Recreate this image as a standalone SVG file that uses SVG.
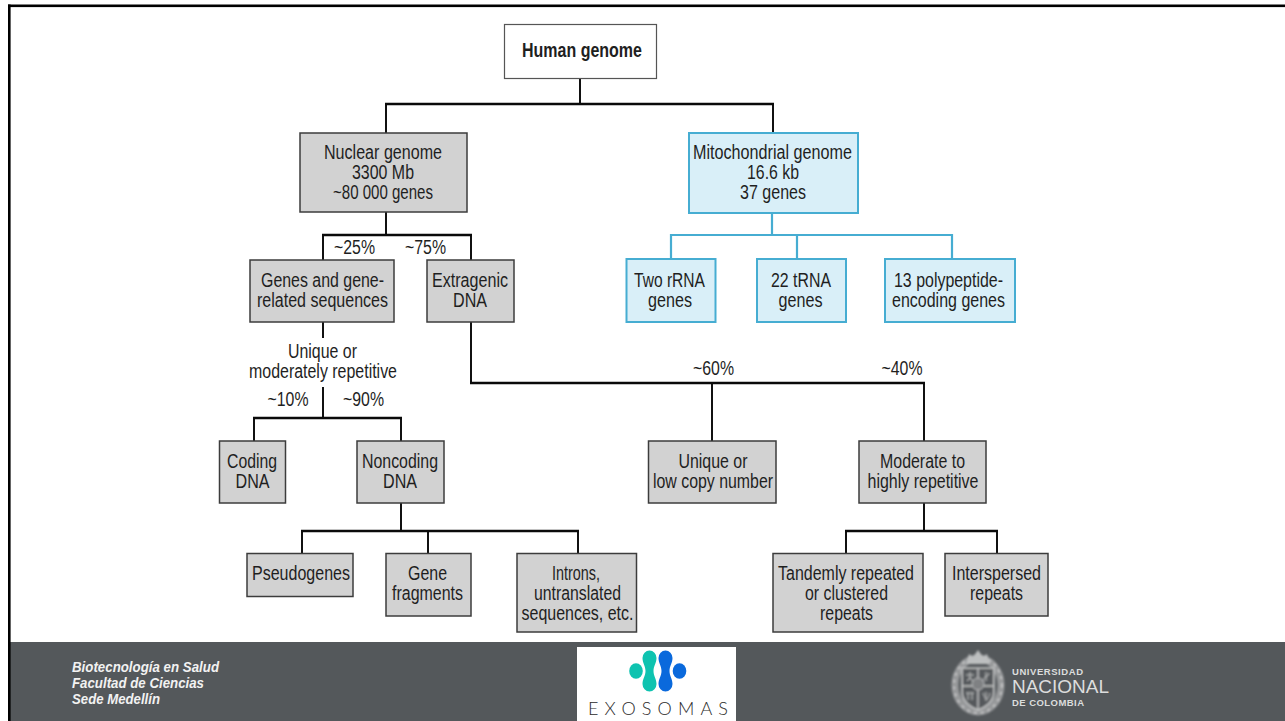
<svg xmlns="http://www.w3.org/2000/svg" width="1285" height="721" viewBox="0 0 1285 721">
<style>
text{font-family:"Liberation Sans",Arial,sans-serif;font-size:19.5px;fill:#1f1f1f;text-anchor:middle}
.b{fill:#d2d2d2;stroke:#3c3c3c;stroke-width:1.5}
.m{fill:#d9eff8;stroke:#46add2;stroke-width:2}
.w{fill:#fff;stroke:#555;stroke-width:1.2}
.c{fill:none;stroke:#111;stroke-width:2}
.h{fill:none;stroke:#0a0a0a;stroke-width:2.600}
.mc{fill:none;stroke:#46add2;stroke-width:2.200}
.f{font-size:14px;font-weight:bold;font-style:italic;fill:#f2f2f2;text-anchor:start}
.u{fill:#dcdddd;text-anchor:start;font-weight:bold}
</style>
<defs><filter id="soft" x="-10%" y="-10%" width="120%" height="120%"><feGaussianBlur stdDeviation="0.8"/></filter></defs>
<rect width="1285" height="721" fill="#fff"/>
<g id="frame">
<rect x="10" y="642" width="1275" height="79" fill="#54585b"/>
<rect x="8" y="4.500" width="1277" height="2.600" fill="#000"/>
<rect x="8" y="4.500" width="2.600" height="716.500" fill="#000"/>
</g>
<g id="connectors">
<path class="c" d="M580 78V104M773 104V133M386 104V133"/><path class="h" d="M385 104H774"/>
<path class="c" d="M386 212V235M323 260V235M471 235V260"/><path class="h" d="M322 235H472"/>
<path class="c" d="M323 322V338M323 387V418M254 441V418M401 418V441"/><path class="h" d="M253 418H402"/>
<path class="c" d="M401 503V531M302 553V531M578 531V553M428 531V553"/><path class="h" d="M301 531H579"/>
<path class="c" d="M471 322V383M924 383V441M712 383V441"/><path class="h" d="M470 383H925"/>
<path class="c" d="M924 503V531M846 553V531M997 531V553"/><path class="h" d="M845 531H998"/>
<path class="mc" d="M772 213V235M671 259V235H952V259M797 235V259"/>
</g>
<g id="human-genome"><rect class="w" x="504.500" y="24.500" width="152" height="54"/><text x="582" y="57" font-weight="bold" textLength="120" lengthAdjust="spacingAndGlyphs">Human genome</text></g>
<g id="nuclear-genome"><rect class="b" x="300" y="133" width="167" height="79"/><text x="383" y="159" textLength="118" lengthAdjust="spacingAndGlyphs">Nuclear genome</text><text x="383" y="179" textLength="62" lengthAdjust="spacingAndGlyphs">3300 Mb</text><text x="383" y="199" textLength="100" lengthAdjust="spacingAndGlyphs">~80 000 genes</text></g>
<g id="mitochondrial-genome"><rect class="m" x="689" y="133" width="169" height="80"/><text x="772.500" y="159" textLength="159" lengthAdjust="spacingAndGlyphs">Mitochondrial genome</text><text x="773" y="179" textLength="52" lengthAdjust="spacingAndGlyphs">16.6 kb</text><text x="773" y="199" textLength="66" lengthAdjust="spacingAndGlyphs">37 genes</text></g>
<g id="rrna"><rect class="m" x="626.500" y="259" width="89" height="63"/><text x="669.500" y="287" textLength="71" lengthAdjust="spacingAndGlyphs">Two rRNA</text><text x="670" y="307" textLength="44" lengthAdjust="spacingAndGlyphs">genes</text></g>
<g id="trna"><rect class="m" x="757" y="259" width="89" height="63"/><text x="801" y="287" textLength="60" lengthAdjust="spacingAndGlyphs">22 tRNA</text><text x="800.500" y="307" textLength="44" lengthAdjust="spacingAndGlyphs">genes</text></g>
<g id="polypeptide"><rect class="m" x="885" y="259" width="130" height="63"/><text x="948.500" y="287" textLength="109" lengthAdjust="spacingAndGlyphs">13 polypeptide-</text><text x="948.500" y="307" textLength="113" lengthAdjust="spacingAndGlyphs">encoding genes</text></g>
<g id="genes-related"><rect class="b" x="250" y="260" width="144" height="62"/><text x="322.500" y="287" textLength="123" lengthAdjust="spacingAndGlyphs">Genes and gene-</text><text x="322.500" y="307" textLength="131" lengthAdjust="spacingAndGlyphs">related sequences</text></g>
<g id="extragenic"><rect class="b" x="427" y="260" width="87" height="62"/><text x="470" y="287" textLength="76" lengthAdjust="spacingAndGlyphs">Extragenic</text><text x="470" y="307" textLength="34" lengthAdjust="spacingAndGlyphs">DNA</text></g>
<g id="coding"><rect class="b" x="219.500" y="441" width="66" height="62"/><text x="252" y="468" textLength="50" lengthAdjust="spacingAndGlyphs">Coding</text><text x="252.500" y="488" textLength="34" lengthAdjust="spacingAndGlyphs">DNA</text></g>
<g id="noncoding"><rect class="b" x="357" y="441" width="87" height="62"/><text x="400" y="468" textLength="76" lengthAdjust="spacingAndGlyphs">Noncoding</text><text x="400" y="488" textLength="34" lengthAdjust="spacingAndGlyphs">DNA</text></g>
<g id="pseudogenes"><rect class="b" x="247" y="553.500" width="106" height="43"/><text x="301" y="580" textLength="98" lengthAdjust="spacingAndGlyphs">Pseudogenes</text></g>
<g id="gene-fragments"><rect class="b" x="386" y="553.500" width="85" height="62.500"/><text x="427.500" y="580" textLength="39" lengthAdjust="spacingAndGlyphs">Gene</text><text x="427.500" y="600" textLength="71" lengthAdjust="spacingAndGlyphs">fragments</text></g>
<g id="introns"><rect class="b" x="517" y="553.500" width="119.500" height="78.500"/><text x="576" y="580" textLength="48" lengthAdjust="spacingAndGlyphs">Introns,</text><text x="577.500" y="600" textLength="87" lengthAdjust="spacingAndGlyphs">untranslated</text><text x="577.500" y="620" textLength="112" lengthAdjust="spacingAndGlyphs">sequences, etc.</text></g>
<g id="unique-low"><rect class="b" x="648.500" y="441" width="127.500" height="62"/><text x="713" y="468" textLength="69" lengthAdjust="spacingAndGlyphs">Unique or</text><text x="713" y="488" textLength="120" lengthAdjust="spacingAndGlyphs">low copy number</text></g>
<g id="moderate"><rect class="b" x="859" y="441" width="127" height="62"/><text x="922.500" y="468" textLength="85" lengthAdjust="spacingAndGlyphs">Moderate to</text><text x="923" y="488" textLength="111" lengthAdjust="spacingAndGlyphs">highly repetitive</text></g>
<g id="tandem"><rect class="b" x="773" y="553.500" width="150" height="78.500"/><text x="846" y="580" textLength="136" lengthAdjust="spacingAndGlyphs">Tandemly repeated</text><text x="846.500" y="600" textLength="83" lengthAdjust="spacingAndGlyphs">or clustered</text><text x="846.500" y="620" textLength="53" lengthAdjust="spacingAndGlyphs">repeats</text></g>
<g id="interspersed"><rect class="b" x="945" y="553.500" width="103" height="62.500"/><text x="996.500" y="580" textLength="89" lengthAdjust="spacingAndGlyphs">Interspersed</text><text x="996.500" y="600" textLength="53" lengthAdjust="spacingAndGlyphs">repeats</text></g>
<g id="labels">
<text x="354.500" y="254" textLength="41" lengthAdjust="spacingAndGlyphs">~25%</text>
<text x="425.500" y="254" textLength="41" lengthAdjust="spacingAndGlyphs">~75%</text>
<text x="322.500" y="358" textLength="69" lengthAdjust="spacingAndGlyphs">Unique or</text>
<text x="323" y="378" textLength="148" lengthAdjust="spacingAndGlyphs">moderately repetitive</text>
<text x="288" y="406" textLength="41" lengthAdjust="spacingAndGlyphs">~10%</text>
<text x="363.500" y="406" textLength="41" lengthAdjust="spacingAndGlyphs">~90%</text>
<text x="713.500" y="375" textLength="41" lengthAdjust="spacingAndGlyphs">~60%</text>
<text x="902" y="375" textLength="41" lengthAdjust="spacingAndGlyphs">~40%</text>
</g>
<g id="footer-text">
<text class="f" x="72" y="672" textLength="147" lengthAdjust="spacingAndGlyphs">Biotecnología en Salud</text>
<text class="f" x="72" y="688" textLength="132" lengthAdjust="spacingAndGlyphs">Facultad de Ciencias</text>
<text class="f" x="72" y="704" textLength="88" lengthAdjust="spacingAndGlyphs">Sede Medellín</text>
</g>
<g id="exosomas-logo">
<rect x="577" y="647" width="159" height="74" fill="#fff"/>
<ellipse cx="636" cy="671" rx="6.800" ry="7.800" fill="#0ec3b0"/>
<path fill="#0ec3b0" d="M642.500 658a7 7.500 0 0 1 14 0c0 5-3 8-3 13s3 8 3 13a7 7.500 0 0 1-14 0c0-5 3-8 3-13s-3-8-3-13z"/>
<path fill="#0a69dc" d="M658.500 658a7 7.500 0 0 1 14 0c0 5-3 8-3 13s3 8 3 13a7 7.500 0 0 1-14 0c0-5 3-8 3-13s-3-8-3-13z"/>
<ellipse cx="679.500" cy="671" rx="6.800" ry="7.800" fill="#0a69dc"/>
<text x="658" y="715" style="font-size:18px;fill:#2b2b2b;font-family:Lato,sans-serif;font-weight:300" textLength="140">EXOSOMAS</text>
</g>
<g id="universidad-logo">
<g filter="url(#soft)">
<ellipse cx="978" cy="685" rx="23" ry="27" fill="none" stroke="#96989a" stroke-width="7"/>
<ellipse cx="978" cy="685" rx="24" ry="28" fill="none" stroke="#c4c5c6" stroke-width="2" stroke-dasharray="3 4"/>
<path d="M966 664l3-10 4 3 5-7 5 7 4-3 3 10z" fill="#bdbfc0"/>
<path d="M962 668H994V692C994 702 984 708 978 710C972 708 962 702 962 692Z" fill="#55585b" stroke="#c6c7c8" stroke-width="1.600"/>
<path d="M978 668V710M962 686H994" stroke="#c6c7c8" stroke-width="1.400"/>
<ellipse cx="978" cy="684" rx="6" ry="6" fill="#7f8183" stroke="#b9babb"/>
<path d="M966 675h8M970 672v7M967 681l3-3 3 3" fill="none" stroke="#c6c7c8"/>
<path d="M983 681c0-4 6-5 6-8M986 672v9" fill="none" stroke="#c6c7c8"/>
<path d="M966 693h8M968 693v7M972 693v7" fill="none" stroke="#c6c7c8"/>
<path d="M983 693c3 8 5 8 7 0M986 692v9" fill="none" stroke="#c6c7c8"/>
</g>
<text class="u" x="1012" y="675" style="font-size:9.500px" textLength="71">UNIVERSIDAD</text>
<text class="u" x="1012" y="693" style="font-size:19px;font-weight:normal" textLength="97">NACIONAL</text>
<text class="u" x="1012" y="706" style="font-size:9.500px" textLength="72">DE COLOMBIA</text>
</g>
</svg>
